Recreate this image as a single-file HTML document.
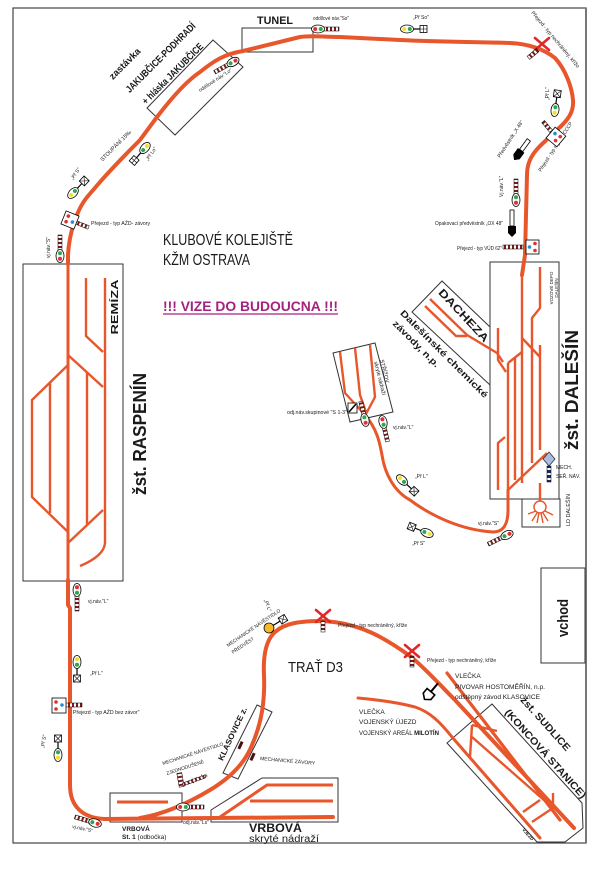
<!DOCTYPE html>
<html><head><meta charset="utf-8"><style>
html,body{margin:0;padding:0;background:#fff;}
svg{display:block;}
text{font-family:"Liberation Sans Narrow","Liberation Sans",sans-serif;fill:#1a1a1a;}
.b{font-weight:bold;}
.trk{fill:none;stroke:#e8572b;stroke-width:4;stroke-linecap:round;stroke-linejoin:round;}
.thn{fill:none;stroke:#e8572b;stroke-width:2.4;stroke-linecap:butt;stroke-linejoin:round;}
.box{fill:none;stroke:#333;stroke-width:1;}
.ov{fill:#fff;stroke:#000;stroke-width:.8;}
.bar{stroke:#000;stroke-width:.5;}
.rx{stroke:#e02828;stroke-width:2.6;stroke-linecap:round;}
</style></head><body>
<svg width="604" height="870" viewBox="0 0 604 870" xmlns="http://www.w3.org/2000/svg">
<defs>
<pattern id="sv" patternUnits="userSpaceOnUse" width="4" height="4"><rect width="4" height="4" fill="#fff"/><rect width="4" height="2" fill="#7e1a1a"/></pattern>
<pattern id="sh" patternUnits="userSpaceOnUse" width="4" height="4"><rect width="4" height="4" fill="#fff"/><rect width="2" height="4" fill="#7e1a1a"/></pattern>
<pattern id="sn" patternUnits="userSpaceOnUse" width="4" height="5"><rect width="4" height="5" fill="#fff"/><rect width="4" height="3" fill="#1d2a6a"/></pattern>
</defs>
<rect width="604" height="870" fill="#fff"/>
<rect x="13" y="8" width="573" height="835" fill="none" stroke="#444" stroke-width="1.2"/>
<line x1="586" y1="8" x2="586" y2="843" stroke="#777" stroke-width="2"/>

<!-- boxes -->
<rect x="23" y="264" width="100" height="317" class="box"/>
<rect x="242" y="28" width="71" height="24" class="box"/>
<polygon points="213,40 243,67 175,135 147,108" class="box"/>
<rect x="490" y="262" width="69" height="237" class="box"/>
<rect x="522" y="499" width="38" height="28" class="box"/>
<polyline points="490,327 442,281 412,312 490,385" class="box"/>
<polygon points="333,353 375,343 393,412 350,422" class="box"/>
<rect x="110" y="793" width="72" height="29" class="box"/>
<polygon points="211,810 211,822 338,822 338,778 262,778" class="box"/>
<polygon points="257,705 272,712 238,779 223,773" class="box"/>
<rect x="541" y="568" width="44" height="95" class="box" stroke-width="1.2"/>
<polygon points="492,704 582,803 583,828 565,842 537,842 447,743" class="box"/>

<!-- Raspenin station tracks -->
<path class="thn" d="M105,278 L105,543 Q104,556 80,566"/>
<path class="thn" d="M86,278 L86,336 L103,352"/>
<path class="thn" d="M68,355 L103,387"/>
<path class="thn" d="M87,372 L87,525"/>
<path class="thn" d="M68,543 L103,510"/>
<path class="thn" d="M68,365 L32,400 L32,497 L68,532"/>
<path class="thn" d="M50,382 L50,513"/>
<path class="thn" d="M68,264 L68,580" style="stroke-width:3"/>

<!-- main loop -->
<path class="trk" d="M68,264 L68,255 C69,235 76,210 88,196 L100,182 C115,165 130,150 140,140 L157,117 C170,100 185,82 200,72 C215,60 225,54 243,51 L300,37 C312,35 322,37 340,37 L400,40 C440,42 480,42 510,43 C530,44 545,50 555,58 C566,70 572,88 573,100 C574,112 568,120 558,129 L540,146 C530,156 527,165 527,175 L525,255 L522,275"/>
<path class="trk" d="M68,580 L68,605 L70,608 L70,785 C70,806 82,818 105,819 L333,817"/>
<path class="trk" d="M140,818 C165,814 190,802 210,790 C230,778 245,763 252,745 C262,722 265,700 264,675 C263,655 266,640 275,632 C285,623 300,621 323,621 C360,623 385,638 410,656 C425,668 440,685 455,700 L574,828"/>

<!-- Vrbova tracks -->
<path class="thn" d="M117,802 L168,802" style="stroke-width:3"/>
<path class="thn" d="M220,817 L267,785 L333,785" style="stroke-width:3"/>
<path class="thn" d="M250,801 L333,801" style="stroke-width:3"/>

<!-- Sudlice & sidings -->
<path class="trk" d="M447,673 L560,820" style="stroke-width:3.2"/>
<path class="trk" d="M358,698 C380,700 400,703 415,707 C430,712 440,722 452,737 L540,838" style="stroke-width:3"/>
<path class="thn" d="M472,725 L497,731"/>
<path class="thn" d="M472,725 L470,757"/>
<path class="thn" d="M472,737 L553,808 L553,793"/>
<path class="thn" d="M523,812 L540,800"/>
<path class="thn" d="M532,822 L553,808"/>

<!-- Dalesin yard -->
<path class="thn" d="M522,275 L522,483"/>
<path class="thn" d="M540,267 L540,308 L532,318 L532,463"/>
<path class="thn" d="M540,345 L540,450"/>
<path class="thn" d="M515,357 L515,480"/>
<path class="thn" d="M508,363 L508,492"/>
<path class="thn" d="M508,363 L522,352"/>
<path class="thn" d="M522,338 L540,357"/>
<path class="thn" d="M508,490 L547,453"/>
<path class="thn" d="M498,328 L498,360 L506,372"/>
<path class="thn" d="M498,490 L498,443 L505,437"/>
<path class="thn" d="M540,483 L540,501"/>
<path class="thn" d="M430,299 L467,335 L497,353 L503,362"/>
<path class="thn" d="M425,306 L456,336 L467,336"/>
<circle cx="540" cy="507" r="6" fill="#fff" stroke="#e8572b" stroke-width="1.5"/>
<path class="thn" style="stroke-width:1.4" d="M536,511 L528,514 M537,513 L532,521 M539,513 L537,523 M541,513 L543,523 M543,513 L548,521 M545,511 L553,515"/>

<!-- Strizov -->
<path class="thn" d="M340,352 L345,393 L365,415"/>
<path class="thn" d="M355,348 L360,395 L366,412"/>
<path class="thn" d="M370,345 L375,397 L366,414"/>
<path class="trk" style="stroke-width:3" d="M365,415 C378,430 380,445 382,455 C385,475 395,492 410,500 C430,515 460,530 493,532 C503,532 508,525 508,510 L508,490"/>

<!-- texts: title -->
<text x="163" y="245" font-size="16" textLength="130" lengthAdjust="spacingAndGlyphs">KLUBOVÉ KOLEJIŠTĚ</text>
<text x="163" y="265" font-size="16" textLength="87" lengthAdjust="spacingAndGlyphs">KŽM OSTRAVA</text>
<text x="163" y="311" font-size="13.5" class="b" style="fill:#a6217f" textLength="175" lengthAdjust="spacingAndGlyphs">!!! VIZE DO BUDOUCNA !!!</text>
<line x1="163" y1="314" x2="338" y2="314" stroke="#a6217f" stroke-width="1.2"/>
<text x="288" y="672" font-size="15" textLength="55" lengthAdjust="spacingAndGlyphs">TRAŤ D3</text>
<text x="257" y="24" font-size="11" class="b" textLength="36" lengthAdjust="spacingAndGlyphs">TUNEL</text>

<!-- station names -->
<text transform="translate(146,434) rotate(-90)" text-anchor="middle" font-size="18" class="b" style="font-family:'Liberation Sans',sans-serif" textLength="122" lengthAdjust="spacingAndGlyphs">žst. RASPENÍN</text>
<text transform="translate(118,307) rotate(-90)" text-anchor="middle" font-size="10" class="b" style="font-family:'Liberation Sans',sans-serif" textLength="55" lengthAdjust="spacingAndGlyphs">REMÍZA</text>
<text transform="translate(578,390) rotate(-90)" text-anchor="middle" font-size="18" class="b" style="font-family:'Liberation Sans',sans-serif" textLength="120" lengthAdjust="spacingAndGlyphs">žst. DALEŠÍN</text>
<text transform="translate(568,618) rotate(-90)" text-anchor="middle" font-size="15" class="b" style="font-family:'Liberation Sans',sans-serif" textLength="38" lengthAdjust="spacingAndGlyphs">vchod</text>
<text transform="translate(553,288) rotate(-90)" text-anchor="middle" font-size="4.5">VOZOVÉ DEPO</text>
<text transform="translate(558,288) rotate(-90)" text-anchor="middle" font-size="4.5">DALEŠÍN</text>
<text transform="translate(570,510) rotate(-90)" text-anchor="middle" font-size="5.5">LD DALEŠÍN</text>
<text x="556" y="469" font-size="5">MECH.</text>
<text x="556" y="478" font-size="5">SEŘ. NÁV.</text>

<!-- Jakubcice -->
<text transform="translate(127,66) rotate(-45)" text-anchor="middle" font-size="9.5" class="b" textLength="40" lengthAdjust="spacingAndGlyphs">zastávka</text>
<text transform="translate(163,60) rotate(-45)" text-anchor="middle" font-size="10" class="b" textLength="94" lengthAdjust="spacingAndGlyphs">JAKUBČICE-PODHRADÍ</text>
<text transform="translate(175,76) rotate(-45)" text-anchor="middle" font-size="10" class="b" textLength="82" lengthAdjust="spacingAndGlyphs">+ hláska JAKUBČICE</text>
<text transform="translate(117,147) rotate(-45)" text-anchor="middle" font-size="5.5">STOUPÁNÍ 15‰</text>

<!-- Dacheza -->
<text transform="translate(461,318) rotate(47)" text-anchor="middle" font-size="11" class="b" style="font-family:'Liberation Sans',sans-serif" textLength="68" lengthAdjust="spacingAndGlyphs">DACHEZA</text>
<text transform="translate(442,356) rotate(45)" text-anchor="middle" font-size="9" class="b" style="font-family:'Liberation Sans',sans-serif" textLength="120" lengthAdjust="spacingAndGlyphs">Dalešínské chemické</text>
<text transform="translate(414,346) rotate(45)" text-anchor="middle" font-size="9" class="b" style="font-family:'Liberation Sans',sans-serif" textLength="62" lengthAdjust="spacingAndGlyphs">závody, n.p.</text>

<!-- Strizov text -->
<text transform="translate(380,360) rotate(76)" font-size="5.5">STŘÍŽOV</text>
<text transform="translate(374,362) rotate(76)" font-size="5.5">skryté nádraží</text>
<text x="287" y="414" font-size="5" textLength="60" lengthAdjust="spacingAndGlyphs">odj.náv.skupinové "S 1-3"</text>
<text x="393" y="429" font-size="5">vj.náv."L"</text>
<text x="415" y="478" font-size="5">„Př L"</text>
<text x="412" y="545" font-size="5">„Př S"</text>
<text x="478" y="525" font-size="5">vj.náv."S"</text>

<!-- Sudlice -->
<text transform="translate(543,726) rotate(48)" text-anchor="middle" font-size="10" class="b" style="font-family:'Liberation Sans',sans-serif" textLength="69" lengthAdjust="spacingAndGlyphs">žst. SUDLICE</text>
<text transform="translate(543,756) rotate(48)" text-anchor="middle" font-size="10" class="b" style="font-family:'Liberation Sans',sans-serif" textLength="116" lengthAdjust="spacingAndGlyphs">(KONCOVÁ STANICE)</text>
<text transform="translate(522,830) rotate(48)" font-size="4.5" class="b">VJEZD</text>
<text x="455" y="678" font-size="6.5">VLEČKA</text>
<text x="455" y="689" font-size="6.5" textLength="90" lengthAdjust="spacingAndGlyphs">PIVOVAR HOSTOMĚŘÍN, n.p.</text>
<text x="455" y="699" font-size="6.5" textLength="85" lengthAdjust="spacingAndGlyphs">odštěpný závod KLASOVICE</text>
<text x="359" y="714" font-size="6.5">VLEČKA</text>
<text x="359" y="724" font-size="6.5">VOJENSKÝ ÚJEZD</text>
<text x="359" y="735" font-size="6.5" textLength="80" lengthAdjust="spacingAndGlyphs">VOJENSKÝ AREÁL <tspan class="b">MILOTÍN</tspan></text>

<!-- Vrbova texts -->
<text x="122" y="831" font-size="6.5" class="b">VRBOVÁ</text>
<text x="122" y="839" font-size="6.5"><tspan class="b">St. 1</tspan> (odbočka)</text>
<text x="249" y="832" font-size="11.5" class="b" style="font-family:'Liberation Sans',sans-serif" textLength="53" lengthAdjust="spacingAndGlyphs">VRBOVÁ</text>
<text x="249" y="842" font-size="10" textLength="70" lengthAdjust="spacingAndGlyphs">skryté nádraží</text>

<!-- Klasovice -->
<text transform="translate(235,735) rotate(-65)" text-anchor="middle" font-size="8" class="b" style="font-family:'Liberation Sans',sans-serif" textLength="58" lengthAdjust="spacingAndGlyphs">KLASOVICE z.</text>
<rect x="236" y="744" width="8" height="3" fill="#4a1010" transform="rotate(-65 240 745)"/>
<rect x="249" y="755" width="8" height="3" fill="#4a1010" transform="rotate(-65 253 757)"/>
<text x="260" y="760" font-size="5" transform="rotate(5 260 760)">MECHANICKÉ ZÁVORY</text>
<text transform="translate(163,765) rotate(-18)" font-size="4.8">MECHANICKÉ NÁVĚSTIDLO</text>
<text transform="translate(167,775) rotate(-18)" font-size="4.8">ZJEDNODUŠENÉ</text>
<text transform="translate(190,783) rotate(-20)" font-size="6">vj.n. Ls</text>
<rect x="178" y="773" width="5" height="14" fill="url(#sv)" class="bar" transform="rotate(-10 180 780)"/>
<rect x="183" y="783" width="24" height="3" fill="url(#sh)" class="bar" transform="rotate(-20 183 785)"/>
<text transform="translate(228,647) rotate(-34)" font-size="4.8">MECHANICKÉ NÁVĚSTIDLO</text>
<text transform="translate(233,654) rotate(-34)" font-size="4.8">PŘEDVĚST</text>
<text transform="translate(264,600) rotate(70)" font-size="5">„Př L"</text>

<!-- top labels -->
<text x="313" y="20" font-size="5" textLength="36" lengthAdjust="spacingAndGlyphs">oddílové náv."So"</text>
<text x="413" y="19" font-size="5">„Př So"</text>
<text transform="translate(200,92) rotate(-33)" font-size="5">oddílové náv."Lo"</text>
<text transform="translate(148,161) rotate(-55)" font-size="5">„Př Lo"</text>
<text transform="translate(73,180) rotate(-55)" font-size="5">„Př S"</text>
<text x="91" y="225" font-size="5.2">Přejezd - typ AŽD- závory</text>
<text transform="translate(50,258) rotate(-90)" font-size="5">vj.náv."S"</text>
<text transform="translate(531,13) rotate(50)" font-size="5.2" textLength="72" lengthAdjust="spacingAndGlyphs">Přejezd - typ nechráněný, křížo</text>
<text transform="translate(549,100) rotate(-90)" font-size="5">„Př L"</text>
<text transform="translate(541,172) rotate(-57)" font-size="5.2" textLength="58" lengthAdjust="spacingAndGlyphs">Přejezd - typ mgř. ex CCCP</text>
<text transform="translate(500,158) rotate(-57)" font-size="5.2">Předvěstník „X 48"</text>
<text transform="translate(503,197) rotate(-90)" font-size="5">Vj.náv."L"</text>
<text x="435" y="225" font-size="5.2" textLength="68" lengthAdjust="spacingAndGlyphs">Opakovací předvěstník „OX 48"</text>
<text x="457" y="250" font-size="5.2" textLength="45" lengthAdjust="spacingAndGlyphs">Přejezd - typ VÚD 62"</text>

<!-- bottom-left labels -->
<text x="88" y="603" font-size="5">vj.náv."L"</text>
<text x="90" y="675" font-size="5">„Př L"</text>
<text x="73" y="714" font-size="5.2">Přejezd - typ AŽD bez závor"</text>
<text transform="translate(44,748) rotate(-80)" font-size="5">„Př S"</text>
<text transform="translate(72,828) rotate(12)" font-size="5">vj.náv."S"</text>
<text x="183" y="824" font-size="5">odj.náv."Ls"</text>
<text x="338" y="627" font-size="5">Přejezd - typ nechráněný, kříže</text>
<text x="427" y="662" font-size="5">Přejezd - typ nechráněný, kříže</text>

<!-- ===== signals ===== -->
<g transform="translate(60,256) rotate(180)"><rect x="-2" y="6" width="4" height="15" fill="url(#sv)" class="bar"/><ellipse rx="4" ry="6.5" class="ov"/><circle cy="-2.8" r="2" fill="#e03030"/><circle cy="2.8" r="2" fill="#2aa84a"/></g>
<g transform="translate(233,62) rotate(61)"><rect x="-2" y="6" width="4" height="15" fill="url(#sv)" class="bar"/><ellipse rx="4" ry="6.5" class="ov"/><circle cy="-2.8" r="2" fill="#e03030"/><circle cy="2.8" r="2" fill="#2aa84a"/></g>
<g transform="translate(318,29) rotate(-90)"><rect x="-2" y="6" width="4" height="15" fill="url(#sv)" class="bar"/><ellipse rx="4" ry="6.5" class="ov"/><circle cy="-2.8" r="2" fill="#e03030"/><circle cy="2.8" r="2" fill="#2aa84a"/></g>
<g transform="translate(516,200) rotate(180)"><rect x="-2" y="6" width="4" height="15" fill="url(#sv)" class="bar"/><ellipse rx="4" ry="6.5" class="ov"/><circle cy="-2.8" r="2" fill="#e03030"/><circle cy="2.8" r="2" fill="#2aa84a"/></g>
<g transform="translate(365,420) rotate(167)"><rect x="-2" y="6" width="4" height="13" fill="url(#sv)" class="bar"/><ellipse rx="4" ry="6.5" class="ov"/><circle cy="-2.8" r="2" fill="#e03030"/><circle cy="2.8" r="2" fill="#2aa84a"/></g>
<g transform="translate(383,422) rotate(-13)"><rect x="-2" y="6" width="4" height="14" fill="url(#sv)" class="bar"/><ellipse rx="4" ry="6.5" class="ov"/><circle cy="-2.8" r="2" fill="#e03030"/><circle cy="2.8" r="2" fill="#2aa84a"/></g>
<g transform="translate(507,535) rotate(64)"><rect x="-2" y="6" width="4" height="15" fill="url(#sv)" class="bar"/><ellipse rx="4" ry="6.5" class="ov"/><circle cy="-2.8" r="2" fill="#e03030"/><circle cy="2.8" r="2" fill="#2aa84a"/></g>
<g transform="translate(77,590) rotate(0)"><rect x="-2" y="6" width="4" height="15" fill="url(#sv)" class="bar"/><ellipse rx="4" ry="6.5" class="ov"/><circle cy="-2.8" r="2" fill="#e03030"/><circle cy="2.8" r="2" fill="#2aa84a"/></g>
<g transform="translate(95,823) rotate(107)"><rect x="-2" y="6" width="4" height="15" fill="url(#sv)" class="bar"/><ellipse rx="4" ry="6.5" class="ov"/><circle cy="-2.8" r="2" fill="#e03030"/><circle cy="2.8" r="2" fill="#2aa84a"/></g>
<g transform="translate(183,807) rotate(-90)"><rect x="-2" y="6" width="4" height="15" fill="url(#sv)" class="bar"/><ellipse rx="4" ry="6.5" class="ov"/><circle cy="-2.8" r="2" fill="#e03030"/><circle cy="2.8" r="2" fill="#2aa84a"/></g>
<rect x="348" y="403" width="9" height="10" fill="#fff" stroke="#000" stroke-width=".8"/><line x1="349" y1="412" x2="356" y2="404" stroke="#000" stroke-width="1.5"/>

<g transform="translate(73,193) rotate(43)"><line y1="-6" y2="-13" stroke="#000" stroke-width="1.2"/><rect x="-3.5" y="-20" width="7" height="7" fill="#fff" stroke="#000" stroke-width=".8"/><path d="M-3.5,-20 L3.5,-13 M3.5,-20 L-3.5,-13" stroke="#000" stroke-width=".6"/><ellipse rx="4" ry="6.5" class="ov"/><circle cy="-2.8" r="2" fill="#2aa84a"/><circle cy="2.8" r="2" fill="#f0e02a"/></g>
<g transform="translate(145,148) rotate(-139)"><line y1="-6" y2="-13" stroke="#000" stroke-width="1.2"/><rect x="-3.5" y="-20" width="7" height="7" fill="#fff" stroke="#000" stroke-width=".8"/><path d="M0,-20 L0,-13 M-3.5,-16.5 L3.5,-16.5" stroke="#000" stroke-width=".6"/><ellipse rx="4" ry="6.5" class="ov"/><circle cy="-2.8" r="2" fill="#2aa84a"/><circle cy="2.8" r="2" fill="#f0e02a"/></g>
<g transform="translate(407,29) rotate(90)"><line y1="-6" y2="-13" stroke="#000" stroke-width="1.2"/><rect x="-3.5" y="-20" width="7" height="7" fill="#fff" stroke="#000" stroke-width=".8"/><path d="M0,-20 L0,-13 M-3.5,-16.5 L3.5,-16.5" stroke="#000" stroke-width=".6"/><ellipse rx="4" ry="6.5" class="ov"/><circle cy="-2.8" r="2" fill="#2aa84a"/><circle cy="2.8" r="2" fill="#f0e02a"/></g>
<g transform="translate(555,110) rotate(8)"><line y1="-6" y2="-13" stroke="#000" stroke-width="1.2"/><rect x="-3.5" y="-20" width="7" height="7" fill="#fff" stroke="#000" stroke-width=".8"/><path d="M-3.5,-20 L3.5,-13 M3.5,-20 L-3.5,-13" stroke="#000" stroke-width=".6"/><ellipse rx="4" ry="6.5" class="ov"/><circle cy="-2.8" r="2" fill="#2aa84a"/><circle cy="2.8" r="2" fill="#f0e02a"/></g>
<g transform="translate(402,480) rotate(133)"><line y1="-6" y2="-13" stroke="#000" stroke-width="1.2"/><rect x="-3.5" y="-20" width="7" height="7" fill="#fff" stroke="#000" stroke-width=".8"/><path d="M-3.5,-20 L3.5,-13 M3.5,-20 L-3.5,-13" stroke="#000" stroke-width=".6"/><ellipse rx="4" ry="6.5" class="ov"/><circle cy="-2.8" r="2" fill="#2aa84a"/><circle cy="2.8" r="2" fill="#f0e02a"/></g>
<g transform="translate(427,533) rotate(-68)"><line y1="-6" y2="-13" stroke="#000" stroke-width="1.2"/><rect x="-3.5" y="-20" width="7" height="7" fill="#fff" stroke="#000" stroke-width=".8"/><path d="M-3.5,-20 L3.5,-13 M3.5,-20 L-3.5,-13" stroke="#000" stroke-width=".6"/><ellipse rx="4" ry="6.5" class="ov"/><circle cy="-2.8" r="2" fill="#2aa84a"/><circle cy="2.8" r="2" fill="#f0e02a"/></g>
<g transform="translate(77,662) rotate(180)"><line y1="-6" y2="-13" stroke="#000" stroke-width="1.2"/><rect x="-3.5" y="-20" width="7" height="7" fill="#fff" stroke="#000" stroke-width=".8"/><path d="M-3.5,-20 L3.5,-13 M3.5,-20 L-3.5,-13" stroke="#000" stroke-width=".6"/><ellipse rx="4" ry="6.5" class="ov"/><circle cy="-2.8" r="2" fill="#2aa84a"/><circle cy="2.8" r="2" fill="#f0e02a"/></g>
<g transform="translate(58,755) rotate(0)"><line y1="-6" y2="-13" stroke="#000" stroke-width="1.2"/><rect x="-3.5" y="-20" width="7" height="7" fill="#fff" stroke="#000" stroke-width=".8"/><path d="M-3.5,-20 L3.5,-13 M3.5,-20 L-3.5,-13" stroke="#000" stroke-width=".6"/><ellipse rx="4" ry="6.5" class="ov"/><circle cy="-2.8" r="2" fill="#2aa84a"/><circle cy="2.8" r="2" fill="#f0e02a"/></g>
<g transform="translate(269,628) rotate(58)"><line y1="-5" y2="-13" stroke="#000" stroke-width="1.2"/><rect x="-3.5" y="-20" width="7" height="7" fill="#fff" stroke="#000" stroke-width=".8"/><path d="M-3.5,-20 L3.5,-13 M3.5,-20 L-3.5,-13" stroke="#000" stroke-width=".6"/><circle r="5" fill="#f5b82a" stroke="#000" stroke-width=".8"/></g>

<!-- crossings with boxes -->
<g transform="translate(70,220) rotate(22)"><rect x="7" y="-1.8" width="13" height="3.6" fill="url(#sh)" class="bar"/><rect x="-7" y="-7" width="14" height="14" fill="#fff" stroke="#000" stroke-width=".8"/><circle cx="-3" cy="-3" r="1.8" fill="#e03030"/><circle cx="-3" cy="3" r="1.8" fill="#e03030"/><circle cx="3" cy="1" r="1.8" fill="#2a8fd0"/></g>
<g transform="translate(556,137) rotate(40)"><rect x="-20" y="-1.8" width="13" height="3.6" fill="url(#sh)" class="bar" transform="rotate(10)"/><rect x="-7" y="-7" width="14" height="14" fill="#fff" stroke="#000" stroke-width=".8"/><circle cx="-3" cy="-2" r="1.8" fill="#2a8fd0"/><circle cx="3" cy="-3" r="1.8" fill="#e03030"/><circle cx="2" cy="3" r="1.8" fill="#e03030"/></g>
<rect x="503" y="245" width="20" height="4" fill="url(#sh)" class="bar"/>
<rect x="526" y="240" width="13" height="14" fill="#fff" stroke="#000" stroke-width=".8"/>
<circle cx="529.5" cy="247" r="1.8" fill="#2a8fd0"/><circle cx="535" cy="243.5" r="1.8" fill="#e03030"/><circle cx="535" cy="250.5" r="1.8" fill="#e03030"/>
<rect x="66" y="703" width="16" height="4" fill="url(#sh)" class="bar"/>
<rect x="52" y="698" width="14" height="15" fill="#fff" stroke="#000" stroke-width=".8"/>
<circle cx="56" cy="702" r="1.8" fill="#e03030"/><circle cx="56" cy="709" r="1.8" fill="#e03030"/><circle cx="62" cy="705" r="1.8" fill="#2a8fd0"/>

<!-- red X crossings -->
<g transform="translate(542,44)"><path class="rx" d="M-7,-6 L7,6 M7,-6 L-7,6"/></g>
<rect x="531" y="48" width="4" height="12" fill="url(#sv)" class="bar" transform="rotate(50 533 54)"/>
<g transform="translate(323,616)"><path class="rx" d="M-7,-6 L7,6 M7,-6 L-7,6"/></g>
<rect x="321" y="621" width="4" height="11" fill="url(#sv)" class="bar"/>
<g transform="translate(412,651)"><path class="rx" d="M-7,-6 L7,6 M7,-6 L-7,6"/></g>
<rect x="410" y="656" width="4" height="11" fill="url(#sv)" class="bar"/>

<!-- black arrow markers -->
<g transform="translate(520,152) rotate(36)"><rect x="-2" y="-15" width="4" height="13" fill="#fff" stroke="#000" stroke-width=".8"/><polygon points="-4,-2 4,-2 4,6 0,10 -4,6" fill="#000"/></g>
<g transform="translate(512,226)"><rect x="-2" y="-16" width="4" height="16" fill="#fff" stroke="#000" stroke-width=".8"/><polygon points="-4,0 4,0 4,7 0,11 -4,7" fill="#000"/></g>
<g transform="translate(429,694) rotate(40)"><polygon points="-5,-3 5,-3 5,3 0,7 -5,3" fill="#fff" stroke="#000" stroke-width="1.6"/><rect x="-1" y="-14" width="2" height="11" fill="#000"/></g>

<!-- mech signal Dalesin -->
<polygon points="549,452 555,459 549,466 543,459" fill="#a9bde3" stroke="#333" stroke-width=".8"/>
<rect x="547" y="466" width="4" height="16" fill="url(#sn)" class="bar"/>
</svg>
</body></html>
